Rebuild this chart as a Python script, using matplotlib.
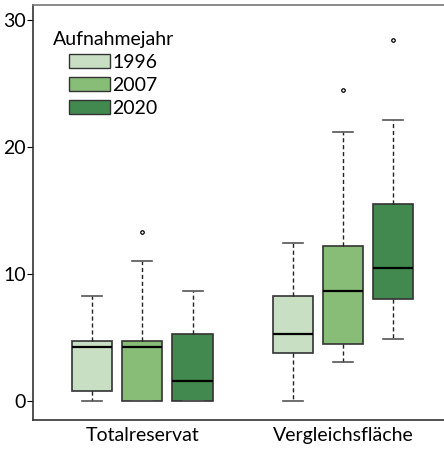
import matplotlib.pyplot as plt
from matplotlib.patches import Patch

plt.rcParams['font.family'] = ['Lato', 'DejaVu Sans']

groups = ["Totalreservat", "Vergleichsfläche"]
years = ["1996", "2007", "2020"]
colors = ["#c8dfc4", "#88bd78", "#41894f"]

# (whislo, q1, med, q3, whishi, outliers) per group and year
lower_whisker = [[0.0, 0.0, 0.0], [0.0, 3.1, 4.85]]
q1 = [[0.8, 0.0, 0.0], [3.75, 4.5, 8.0]]
median = [[4.25, 4.25, 1.6], [5.25, 8.65, 10.45]]
q3 = [[4.72, 4.72, 5.28], [8.3, 12.23, 15.55]]
upper_whisker = [[8.27, 11.0, 8.66], [12.46, 21.2, 22.13]]
outliers = [[[], [13.3], []], [[], [24.5], [28.45]]]

positions = [[1, 2, 3], [5, 6, 7]]

fig = plt.figure(figsize=(4.44, 4.49), dpi=100)
ax = fig.add_axes([0.0743, 0.0646, 0.93, 0.9243])

for g in range(2):
    for k in range(3):
        st = dict(whislo=lower_whisker[g][k], q1=q1[g][k], med=median[g][k],
                  q3=q3[g][k], whishi=upper_whisker[g][k],
                  fliers=outliers[g][k])
        ax.bxp([st], positions=[positions[g][k]], widths=0.8,
               patch_artist=True, manage_ticks=False,
               boxprops=dict(facecolor=colors[k], edgecolor="#333333", linewidth=1.2),
               medianprops=dict(color="black", linewidth=1.6),
               whiskerprops=dict(color="#222222", linestyle=(0, (3, 2)), linewidth=1),
               capprops=dict(color="#555555", linewidth=1.2),
               capwidths=0.4,
               flierprops=dict(marker="o", markersize=2.5, markerfacecolor="none",
                               markeredgecolor="black", markeredgewidth=0.9))

ax.set_xlim(-0.18, 8.05)
ax.set_ylim(-1.5, 31.2)
ax.set_yticks([0, 10, 20, 30])
ax.set_xticks([2, 6])
ax.set_xticklabels(groups)
ax.tick_params(axis="x", length=0, labelsize=14, pad=5)
ax.tick_params(axis="y", length=4, labelsize=14, pad=1)
for s in ["top", "bottom", "left"]:
    ax.spines[s].set_color("#333333")
    ax.spines[s].set_linewidth(1.2)
ax.spines["top"].set_color("#777777")
ax.spines["right"].set_visible(False)

handles = [Patch(facecolor=c, edgecolor="#333333", linewidth=1) for c in colors]
leg = ax.legend(handles, years, title="Aufnahmejahr", loc="upper left",
                bbox_to_anchor=(0.015, 0.97), frameon=False, fontsize=14,
                title_fontsize=14, handlelength=2.1, handleheight=0.75,
                handletextpad=0.1, labelspacing=0.3, borderpad=0.2)

fig.savefig("out.png", dpi=100)
